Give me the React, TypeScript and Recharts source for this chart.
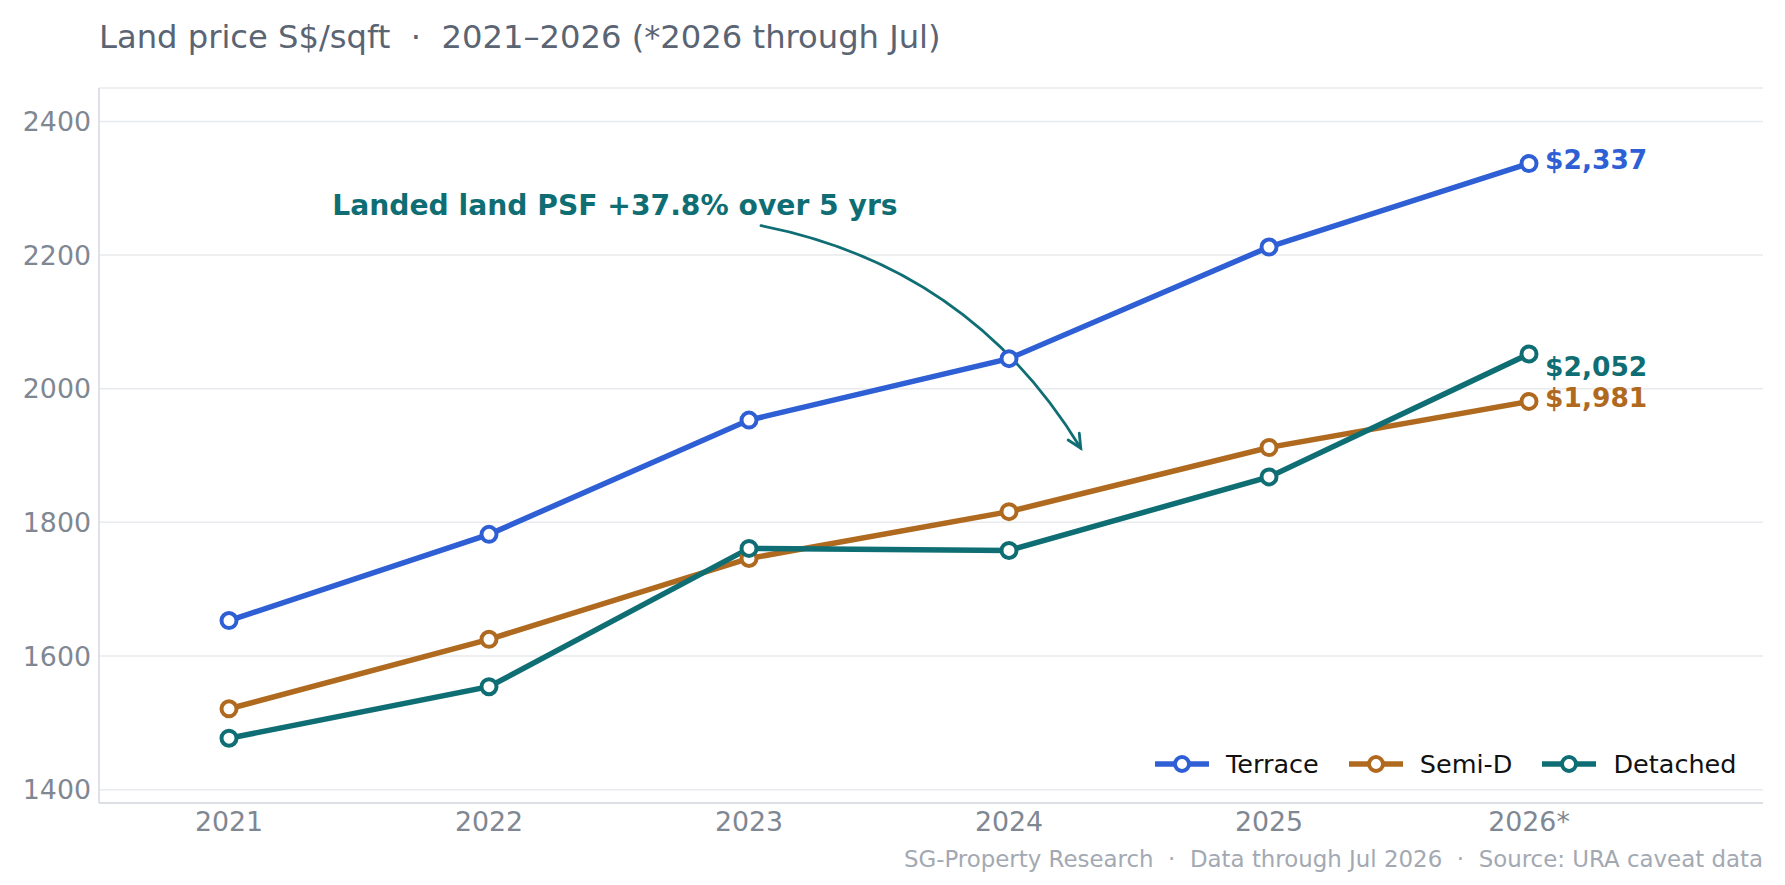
import {
  CartesianGrid,
  Legend,
  LabelList,
  Line,
  LineChart,
  ReferenceDot,
  ReferenceLine,
  XAxis,
  YAxis,
} from "recharts";

const YEARS = ["2021", "2022", "2023", "2024", "2025", "2026*"];
const TERRACE = [1653, 1782, 1953, 2045, 2212, 2337];
const SEMI_D = [1521, 1625, 1746, 1816, 1912, 1981];
const DETACHED = [1477, 1554, 1761, 1758, 1868, 2052];
const Y_TICKS = [1400, 1600, 1800, 2000, 2200, 2400];

const FONT = "'DejaVu Sans', sans-serif";
const W = 1785;
const H = 885;

const SERIES = [
  { key: "terrace", name: "Terrace", color: "#2f5fd4", labelDy: -4 },
  { key: "semiD", name: "Semi-D", color: "#b06a1f", labelDy: -4 },
  { key: "detached", name: "Detached", color: "#0f6e73", labelDy: 13 },
];

const rows = YEARS.map((year, i) => ({
  idx: i,
  year,
  terrace: TERRACE[i],
  semiD: SEMI_D[i],
  detached: DETACHED[i],
}));

const fmtMoney = (v: number) => "$" + v.toLocaleString("en-US");

// curved callout arrow (arc through a control point bowed to the upper right)
function CurvedArrow(props: any) {
  const { x1, y1, x2, y2 } = props;
  const rad = 0.22;
  const dx = x2 - x1;
  const dy = y2 - y1;
  const cx = (x1 + x2) / 2 + rad * dy;
  const cy = (y1 + y2) / 2 - rad * dx;
  const ang = Math.atan2(y2 - cy, x2 - cx);
  const head = 15;
  const spread = 0.45;
  const h1x = x2 - head * Math.cos(ang - spread);
  const h1y = y2 - head * Math.sin(ang - spread);
  const h2x = x2 - head * Math.cos(ang + spread);
  const h2y = y2 - head * Math.sin(ang + spread);
  return (
    <g fill="none" stroke="#0f6e73" strokeWidth={2.8} strokeLinecap="round">
      <path d={`M${x1},${y1} Q${cx},${cy} ${x2},${y2}`} />
      <path d={`M${h1x},${h1y} L${x2},${y2} L${h2x},${h2y}`} />
    </g>
  );
}

function EndLabel(color: string, dy: number) {
  return (p: any) => {
    if (p.index !== YEARS.length - 1) return null;
    return (
      <text
        x={p.x + 16}
        y={p.y + dy}
        fill={color}
        fontFamily={FONT}
        fontSize={26.5}
        fontWeight="bold"
        dominantBaseline="central"
      >
        {fmtMoney(p.value)}
      </text>
    );
  };
}

// legend keeps the series order: Terrace, Semi-D, Detached
function LegendBox() {
  return (
    <div style={{ display: "flex", alignItems: "center", fontFamily: FONT }}>
      {SERIES.map((s) => (
        <div
          key={s.key}
          style={{ display: "flex", alignItems: "center", marginRight: 30 }}
        >
          <svg width={54} height={22}>
            <line x1={0} y1={11} x2={54} y2={11} stroke={s.color} strokeWidth={5.5} />
            <circle cx={27} cy={11} r={7} fill="#fff" stroke={s.color} strokeWidth={4} />
          </svg>
          <span style={{ marginLeft: 17, fontSize: 25.5, color: "#111", lineHeight: "30px" }}>
            {s.name}
          </span>
        </div>
      ))}
    </div>
  );
}

export default function App() {
  return (
    <div style={{ position: "relative", width: W, height: H, background: "#fff" }}>
      <style>{"body{margin:0}"}</style>
      <div
        style={{
          position: "absolute",
          left: 99,
          top: 21,
          fontFamily: FONT,
          fontSize: 32.2,
          lineHeight: "32px",
          color: "#5a6473",
          whiteSpace: "pre",
        }}
      >
        {"Land price S$/sqft  ·  2021–2026 (*2026 through Jul)"}
      </div>
      <LineChart
        width={W}
        height={H}
        data={rows}
        margin={{ top: 88, right: 22, left: 0, bottom: 42 }}
      >
        <CartesianGrid stroke="#e8eaed" strokeWidth={1.5} vertical={false} />
        <XAxis
          dataKey="idx"
          type="number"
          domain={[-0.5, 5.9]}
          ticks={[0, 1, 2, 3, 4, 5]}
          allowDataOverflow
          tickFormatter={(v: number) => YEARS[v]}
          height={40}
          tickSize={0}
          tickMargin={9}
          axisLine={{ stroke: "#d6dadf", strokeWidth: 1.6 }}
          tick={{ fill: "#7f8793", fontSize: 26.8, fontFamily: FONT }}
        />
        <YAxis
          type="number"
          domain={[1380, 2450]}
          ticks={Y_TICKS}
          allowDataOverflow
          width={99}
          tickSize={0}
          tickMargin={8}
          axisLine={{ stroke: "#d6dadf", strokeWidth: 1.6 }}
          tick={{ fill: "#7f8793", fontSize: 26.8, fontFamily: FONT }}
        />
        {SERIES.map((s) => (
          <Line
            key={s.key}
            dataKey={s.key}
            name={s.name}
            type="linear"
            stroke={s.color}
            strokeWidth={5.5}
            dot={{ r: 7.5, fill: "#fff", stroke: s.color, strokeWidth: 4 }}
            activeDot={false}
            isAnimationActive={false}
          >
            <LabelList dataKey={s.key} content={EndLabel(s.color, s.labelDy)} />
          </Line>
        ))}
        <ReferenceLine
          segment={[
            { x: 2.046, y: 2244 },
            { x: 3.276, y: 1911 },
          ]}
          shape={CurvedArrow}
        />
        <ReferenceDot
          x={0.397}
          y={2274}
          r={0}
          shape={(p: any) => (
            <text
              x={p.cx}
              y={p.cy}
              fill="#0f6e73"
              fontFamily={FONT}
              fontSize={28.2}
              fontWeight="bold"
              dominantBaseline="central"
            >
              Landed land PSF +37.8% over 5 yrs
            </text>
          )}
        />
        <Legend
          layout="horizontal"
          verticalAlign="middle"
          align="center"
          content={LegendBox}
          wrapperStyle={{ left: 1155, top: 749, width: "auto" }}
        />
      </LineChart>
      <div
        style={{
          position: "absolute",
          right: W - 1763,
          top: 848,
          fontFamily: FONT,
          fontSize: 22.9,
          lineHeight: "22.9px",
          color: "#a3a9b2",
          whiteSpace: "pre",
        }}
      >
        {"SG-Property Research  ·  Data through Jul 2026  ·  Source: URA caveat data"}
      </div>
    </div>
  );
}
